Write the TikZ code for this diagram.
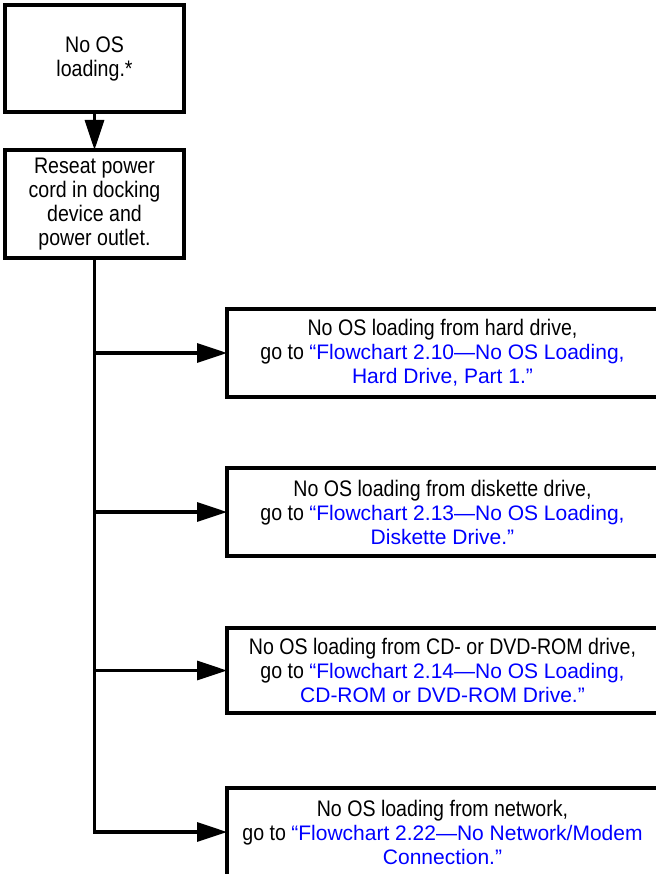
\documentclass[tikz,border=0pt]{standalone}
\usepackage{fontspec}
\setmainfont{Liberation Sans}
\newfontfamily\condfont{Liberation Sans}[FakeStretch=0.87]
\usetikzlibrary{arrows.meta}
\definecolor{linkblue}{RGB}{0,0,255}
\newcommand{\chartlink}[1]{{\normalfont\fontsize{21}{24}\selectfont\color{linkblue}#1}}

\begin{document}
\begin{tikzpicture}[x=1pt,y=-1pt,line width=3.3pt,
  every node/.style={font=\condfont\fontsize{22.5}{24}\selectfont},
  stepbox/.style={draw,rectangle,align=center,inner sep=0pt,outer sep=0pt,minimum width=179pt},
  gotobox/.style={draw,rectangle,align=center,inner sep=0pt,outer sep=0pt,minimum width=431pt,minimum height=88pt},
  flow/.style={-{Triangle[length=30pt,width=19pt]}}]
\useasboundingbox (0,0) rectangle (655,874);
% left column
\node[stepbox,minimum height=107pt] (noos) at (94.5,58.5) {No OS\\ loading.*};
\node[stepbox,minimum height=108pt] (reseat) at (94.5,204) {Reseat power\\ cord in docking\\ device and\\ power outlet.};
% right column
\node[gotobox] (hdd) at (442.5,353) {No OS loading from hard drive,\\ go to \chartlink{“Flowchart 2.10—No OS Loading,}\\ \chartlink{Hard Drive, Part 1.”}};
\node[gotobox] (fdd) at (442.5,512) {No OS loading from diskette drive,\\ go to \chartlink{“Flowchart 2.13—No OS Loading,}\\ \chartlink{Diskette Drive.”}};
\node[gotobox,minimum height=85pt] (cdrom) at (442.5,670.5) {No OS loading from CD- or DVD-ROM drive,\\ go to \chartlink{“Flowchart 2.14—No OS Loading,}\\ \chartlink{CD-ROM or DVD-ROM Drive.”}};
\node[gotobox] (net) at (442.5,832) {No OS loading from network,\\ go to \chartlink{“Flowchart 2.22—No Network/Modem}\\ \chartlink{Connection.”}};
% connectors
\draw[flow] (noos) -- (reseat);
\draw[flow] (reseat.south) |- (net.west);
\foreach \b in {hdd,fdd,cdrom}
  \draw[flow] (reseat.south |- \b.west) -- (\b.west);
\end{tikzpicture}
\end{document}
